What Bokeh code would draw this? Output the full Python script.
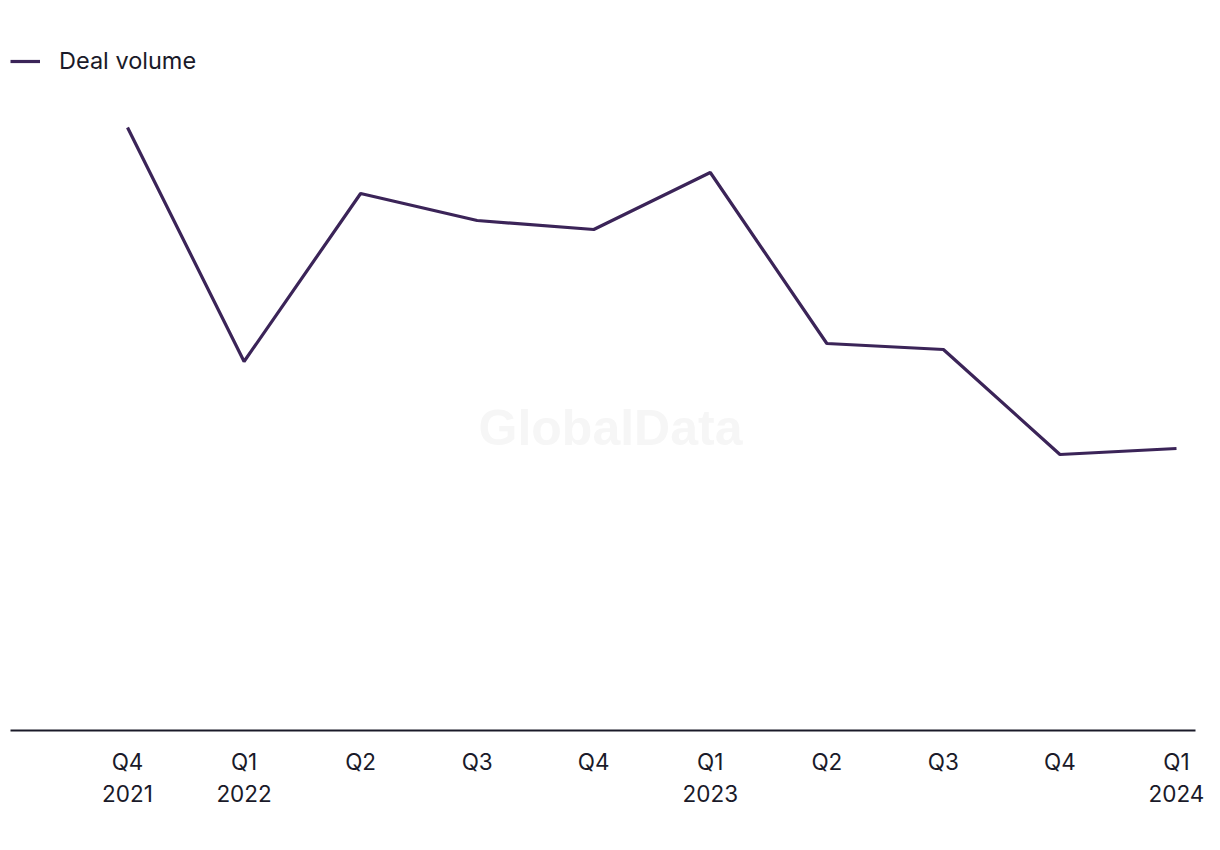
from bokeh.plotting import figure
from bokeh.models import Range1d, FixedTicker, Label, Legend, LegendItem
from bokeh.embed import file_html
from bokeh.resources import INLINE

quarters = ["Q4\n2021", "Q1\n2022", "Q2", "Q3", "Q4", "Q1\n2023", "Q2", "Q3", "Q4", "Q1\n2024"]
deal_volume = [201, 123, 179, 170, 167, 186, 129, 127, 92, 94]

LINE_COLOR = "#3b2458"
TEXT_COLOR = "#1a1a29"
FONT = "Inter"

W, H = 1210, 840
p = figure(width=W, height=H, output_backend="svg", toolbar_location=None,
           x_range=Range1d(-1.004, 9.163), y_range=Range1d(0, 722 / 3),
           min_border_left=10, min_border_right=15, min_border_top=8, min_border_bottom=110)
p.outline_line_color = None
p.xgrid.visible = False
p.ygrid.visible = False
p.yaxis.visible = False

xs = list(range(len(quarters)))
r = p.line(xs, deal_volume, line_color=LINE_COLOR, line_width=3.2)

ax = p.xaxis[0]
ax.ticker = FixedTicker(ticks=xs)
ax.major_label_overrides = {i: q for i, q in enumerate(quarters)}
ax.major_tick_line_color = None
ax.minor_tick_line_color = None
ax.axis_line_color = TEXT_COLOR
ax.axis_line_width = 2
ax.major_label_text_font = FONT
ax.major_label_text_font_size = "22.5px"
ax.major_label_text_color = TEXT_COLOR
ax.major_label_standoff = 11

wm = Label(x=600, y=303, x_units="screen", y_units="screen", text="GlobalData",
           text_align="center", text_baseline="middle", text_font="Liberation Sans",
           text_font_style="bold", text_font_size="50px", text_color="#f6f6f6")
p.add_layout(wm)

legend = Legend(items=[LegendItem(label="Deal volume", renderers=[r])], location=(0, 655),
                margin=0, padding=0, glyph_width=30, glyph_height=24, label_height=24,
                label_standoff=19, border_line_color=None, background_fill_alpha=0,
                label_text_font=FONT, label_text_font_size="23.5px",
                label_text_color=TEXT_COLOR)
p.add_layout(legend, "center")

open("out.html", "w").write(file_html(p, INLINE))
